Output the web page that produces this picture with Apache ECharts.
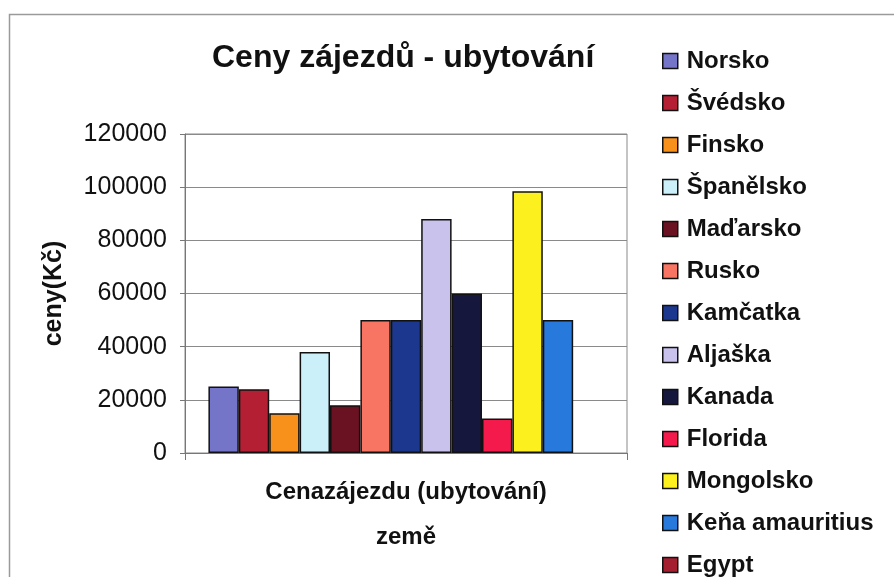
<!DOCTYPE html>
<html>
<head>
<meta charset="utf-8">
<script src="https://cdn.jsdelivr.net/npm/echarts@6/dist/echarts.min.js"></script>
<style>
html,body{margin:0;padding:0;background:#fff;}
#chart{width:894px;height:577px;}
</style>
</head>
<body>
<div id="chart"></div>
<script>
const categories = ['Cenazájezdu (ubytování)'];
const seriesNames = ['Norsko','Švédsko','Finsko','Španělsko','Maďarsko','Rusko','Kamčatka','Aljaška','Kanada','Florida','Mongolsko','Keňa amauritius','Egypt'];
const seriesValues = [25000, 24000, 15000, 38000, 18000, 50000, 50000, 88000, 60000, 13000, 98500, 50000, null];
const seriesColors = ['#7475c9','#b51f33','#f7911c','#ccf0fa','#6a1222','#f97563','#1b388e','#c9c2ec','#15173d','#f51a4c','#fcf01e','#2879dc','#a41f30'];
const yTicks = [0, 20000, 40000, 60000, 80000, 100000, 120000];

const font = 'Arial, "Liberation Sans", sans-serif';
const chart = echarts.init(document.getElementById('chart'));
chart.setOption({
  animation: false,
  backgroundColor: '#fff',
  title: {
    text: 'Ceny zájezdů - ubytování',
    left: 207, top: 37,
    textStyle: {fontFamily: font, fontSize: 32, fontWeight: 'bold', color: '#111'}
  },
  graphic: [{
    type: 'rect', left: 7, top: 12, silent: true,
    shape: {width: 900, height: 600},
    style: {fill: 'none', stroke: '#9a9a9a', lineWidth: 1.5}
  }],
  legend: {
    orient: 'vertical', left: 657, top: 42, height: 620,
    itemWidth: 15, itemHeight: 15, itemGap: 14,
    icon: 'rect',
    itemStyle: {borderColor: '#111', borderWidth: 1.5},
    textStyle: {fontFamily: font, fontSize: 24, fontWeight: 'bold', color: '#111', lineHeight: 28, padding: [0,0,0,4]},
    data: seriesNames
  },
  grid: {left: 185, right: 267, top: 134, bottom: 124, show: true, borderColor: '#8a8a8a', borderWidth: 1},
  xAxis: {
    type: 'category', data: categories,
    name: 'země', nameLocation: 'middle', nameGap: 72,
    nameTextStyle: {fontFamily: font, fontSize: 24, fontWeight: 'bold', color: '#111'},
    axisLine: {lineStyle: {color: '#777', width: 1}},
    axisTick: {show: true, length: 7, lineStyle: {color: '#777'}},
    axisLabel: {fontFamily: font, fontSize: 24, fontWeight: 'bold', color: '#111', margin: 27}
  },
  yAxis: {
    type: 'value', min: 0, max: 120000, interval: 20000,
    name: 'ceny(Kč)', nameLocation: 'middle', nameGap: 118, nameRotate: 90,
    nameTextStyle: {fontFamily: font, fontSize: 25, fontWeight: 'bold', color: '#111'},
    axisLine: {show: true, lineStyle: {color: '#777', width: 1}},
    axisTick: {show: true, length: 5, lineStyle: {color: '#777'}},
    axisLabel: {fontFamily: font, fontSize: 25, color: '#111', margin: 18,
      formatter: v => yTicks.includes(v) ? String(v) : ''},
    splitLine: {show: true, lineStyle: {color: '#8a8a8a', width: 1}}
  },
  series: seriesNames.map((n, i) => ({
    name: n, type: 'bar',
    data: [seriesValues[i]],
    barGap: '0%', barCategoryGap: '10.6%',
    itemStyle: {color: seriesColors[i], borderColor: '#111', borderWidth: 1.5}
  }))
});
</script>
</body>
</html>
